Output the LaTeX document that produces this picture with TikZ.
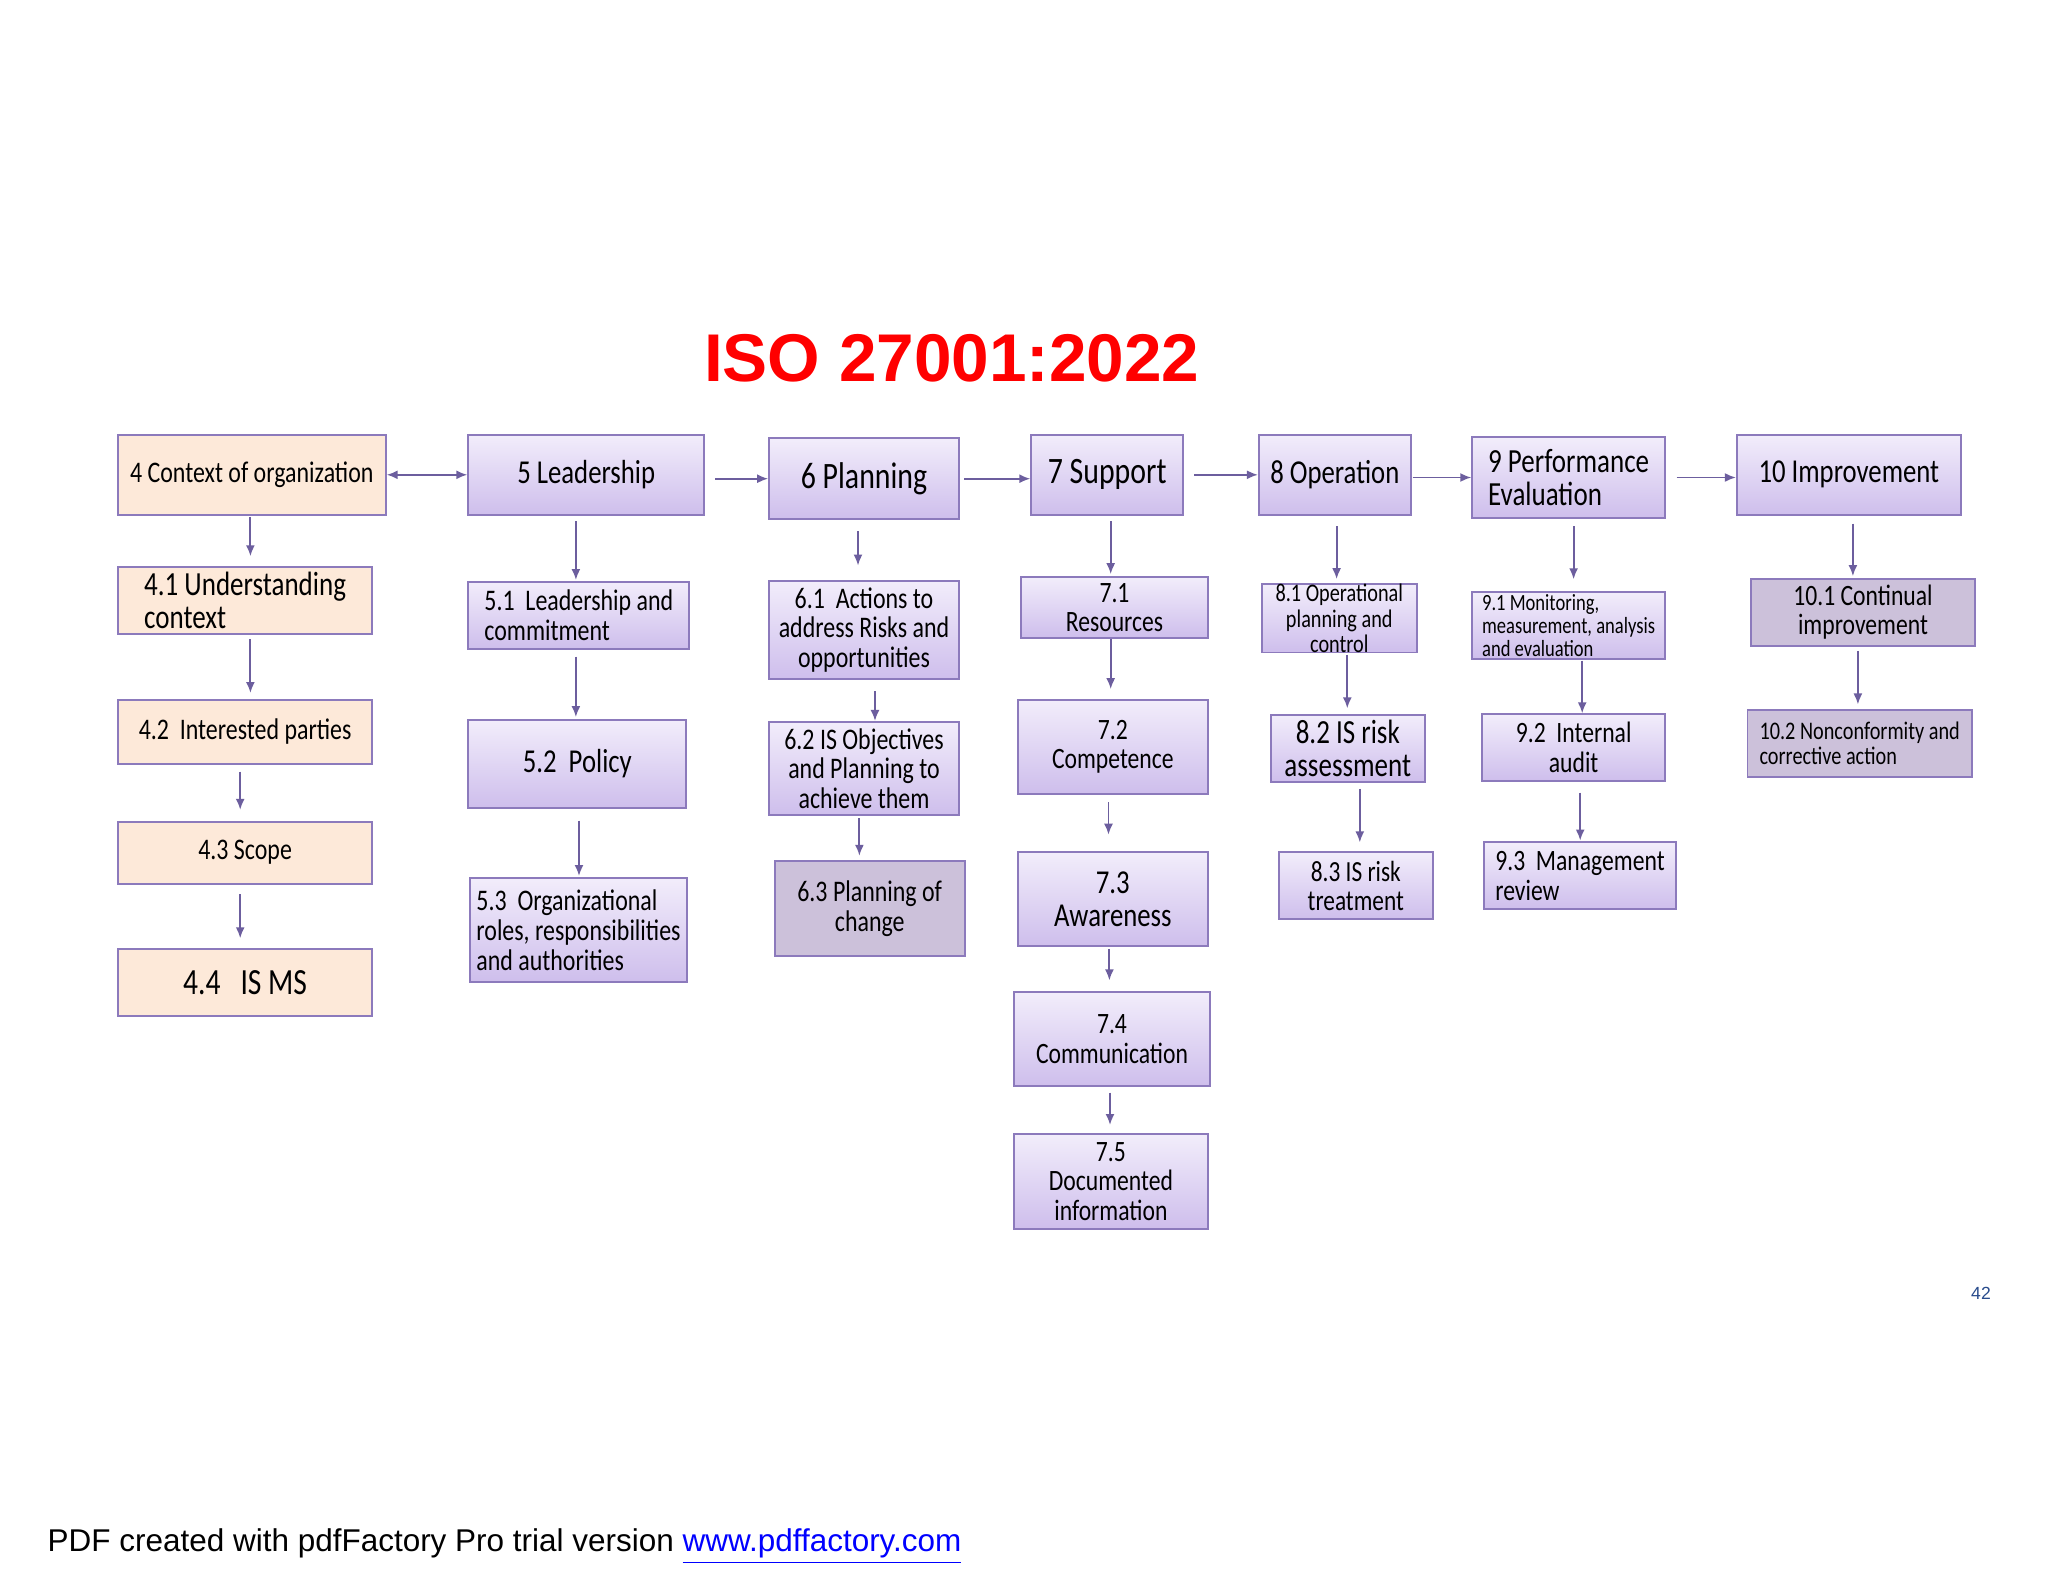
\documentclass[tikz,border=0pt]{standalone}
\usepackage{fontspec}
\setmainfont{Carlito}
\newfontfamily\boxfont[FakeStretch=0.8]{Carlito}
\newfontfamily\arialfont{Liberation Sans}
\usetikzlibrary{arrows.meta}
\definecolor{boxtop}{RGB}{242,237,251}
\definecolor{boxbot}{RGB}{206,190,236}
\definecolor{boxline}{RGB}{140,122,188}
\definecolor{ctxfill}{RGB}{253,233,217}
\definecolor{greyfill}{RGB}{204,193,218}
\definecolor{arrowc}{RGB}{108,94,158}
\definecolor{titlered}{RGB}{255,0,0}
\definecolor{pagenum}{RGB}{40,75,140}
\newcommand\fsz[1]{\fontsize{#1pt}{#1pt}\selectfont}
\tikzset{
  sz/.style 2 args={minimum width=#1*0.01cm, minimum height=#2*0.01cm},
  box/.style={draw=boxline, line width=0.55pt, top color=boxtop, bottom color=boxbot,
    inner sep=0pt, align=center, font=\boxfont\fsz{8.5}},
  ctxbox/.style={box, top color=ctxfill, bottom color=ctxfill},
  greybox/.style={box, top color=greyfill, bottom color=greyfill},
  >={Latex[length=1.1mm,width=0.9mm]},
  arr/.style={draw=arrowc, line width=0.55pt, ->},
}
\begin{document}
\begin{tikzpicture}[x=0.01cm, y=-0.01cm]
\fill[white] (0,0) rectangle (2048,1582);
\useasboundingbox (0,0) rectangle (2048,1582);
\node[anchor=base, text=titlered, font=\arialfont\bfseries\fontsize{19.2pt}{20pt}\selectfont] (title) at (951.8,381) {ISO 27001:2022};
\node[ctxbox, sz={267.8}{80.4}] (c4) at (251.8,474.8) {4 Context of organization};
\node[ctxbox, sz={254.4}{67.1}, align=left, font=\boxfont\fsz{9.6}] (c41) at (245.1,600.3) {4.1 Understanding\\context};
\node[ctxbox, sz={254.4}{64.4}] (c42) at (245.1,731.9) {4.2\ \ Interested parties};
\node[ctxbox, sz={254.4}{62.1}] (c43) at (245.1,852.6) {4.3 Scope};
\node[ctxbox, sz={254.4}{67.1}, font=\boxfont\fsz{10.5}] (c44) at (245.1,982.3) {4.4\ \ \ IS MS};
\node[box, sz={235.7}{80.4}, font=\boxfont\fsz{9.5}] (c5) at (586.2,474.8) {5 Leadership};
\node[box, sz={221}{67}, align=left] (c51) at (578.8,615.2) {5.1\ \ Leadership and\\commitment};
\node[box, sz={218}{87.7}, font=\boxfont\fsz{9.5}] (c52) at (577.3,763.9) {5.2\ \ Policy};
\node[box, sz={217}{104.2}, align=left] (c53) at (578.5,929.9) {5.3\ \ Organizational\\roles, responsibilities\\and authorities};
\node[box, sz={189.7}{80.5}, font=\boxfont\fsz{10.6}] (c6) at (864,478.7) {6 Planning};
\node[box, sz={189.7}{98.9}] (c61) at (864,630) {6.1\ \ Actions to\\address Risks and\\opportunities};
\node[box, sz={189.7}{93.5}] (c62) at (864,768.7) {6.2 IS Objectives\\and Planning to\\achieve them};
\node[greybox, sz={190.1}{95}] (c63) at (869.7,908.9) {6.3 Planning of\\change};
\node[box, sz={151.7}{80.4}, font=\boxfont\fsz{10.6}] (c7) at (1107.2,474.8) {7 Support};
\node[box, sz={186.2}{60.5}, font=\boxfont\fsz{8.4}] (c71) at (1114.5,607.4) {7.1\\Resources};
\node[box, sz={189.7}{93.9}, font=\boxfont\fsz{8.4}] (c72) at (1112.8,746.7) {7.2\\Competence};
\node[box, sz={189.7}{93.8}, font=\boxfont\fsz{9.5}] (c73) at (1112.8,899.1) {7.3\\Awareness};
\node[box, sz={196}{93.7}, font=\boxfont\fsz{8.4}] (c74) at (1112,1039.2) {7.4\\Communication};
\node[box, sz={193.7}{94.4}, font=\boxfont\fsz{8.4}] (c75) at (1110.9,1181.5) {7.5\\Documented\\information};
\node[box, sz={151.8}{80.4}, font=\boxfont\fsz{9.5}] (c8) at (1334.8,474.8) {8 Operation};
\node[box, sz={154.5}{67}, font=\boxfont\fsz{7.2}] (c81) at (1339.3,618.3) {8.1 Operational\\planning and\\control};
\node[box, sz={154.5}{67}, font=\boxfont\fsz{9.6}] (c82) at (1347.8,748.5) {8.2 IS risk\\assessment};
\node[box, sz={154.4}{67}, font=\boxfont\fsz{8.3}] (c83) at (1355.8,885.7) {8.3 IS risk\\treatment};
\node[box, sz={192.6}{80.5}, align=left, font=\boxfont\fsz{9.6}] (c9) at (1568.6,477.5) {9 Performance\\Evaluation};
\node[box, sz={192.6}{66.7}, align=left, font=\boxfont\fsz{6.6}] (c91) at (1568.6,625.4) {9.1 Monitoring,\\measurement, analysis\\and evaluation};
\node[box, sz={182.7}{66.6}, font=\boxfont\fsz{8.4}] (c92) at (1573.6,747.6) {9.2\ \ Internal\\audit};
\node[box, sz={191.3}{67.1}, align=left, font=\boxfont\fsz{8.4}] (c93) at (1580,875.8) {9.3\ \ Management\\review};
\node[box, sz={223.9}{80.4}, font=\boxfont\fsz{9.5}] (c10) at (1848.8,474.8) {10 Improvement};
\node[greybox, sz={224.4}{67.4}, font=\boxfont\fsz{8.4}] (c101) at (1863,612.3) {10.1 Continual\\improvement};
\node[greybox, sz={224.4}{67.1}, align=left, font=\boxfont\fsz{7.2}] (c102) at (1859.7,743.6) {10.2 Nonconformity and\\corrective action};
\draw[arr, <->] (c4.east) -- (c5.west);
\draw[arr, shorten <=1mm] (c5.east |- c6) -- (c6.west);
\draw[arr, shorten <=0.45mm] (c6.east) -- (c6.east -| c7.west);
\draw[arr, shorten <=1mm] (c7.east) -- (c8.west);
\draw[arr, shorten <=0.1mm] (c8.east |- c9) -- (c9.west);
\draw[arr, shorten <=1.07mm] (c9.east) -- (c9.east -| c10.west);
\foreach \a/\b/\x/\s/\e in {c4/c41/250.4/0.1/0.95, c41/c42/250.4/0.46/0.57, c42/c43/240.2/0.65/1.07,
  c43/c44/240.2/0.96/0.95, c5/c51/575.9/0.54/0.07, c51/c52/575.9/0.7/0.2, c52/c53/579/1.2/0.08,
  c6/c61/858/1.14/1.4, c61/c62/875/1.1/0, c62/c63/859.4/0.2/0.46, c7/c71/1110.7/0.54/0.2,
  c71/c72/1110.7/0/0.96, c72/c73/1108.5/0.76/1.65, c73/c74/1109.4/0.2/1.1, c74/c75/1110/0.57/0.83,
  c8/c81/1336.6/1.04/0.4, c81/c82/1347.3/0.12/0.57, c82/c83/1359.8/0.58/0.88, c9/c91/1573.6/0.77/1.18,
  c91/c92/1582.2/0.08/0, c92/c93/1580.2/1.07/0.07, c10/c101/1852.9/0.77/0.15, c101/c102/1857.9/0.4/0.46}
  \draw[arr, shorten <=\s mm, shorten >=\e mm] (\x,0 |- \a.south) -- (\x,0 |- \b.north);
\node[anchor=base, text=pagenum, font=\arialfont\fontsize{5pt}{6pt}\selectfont] (page) at (1981,1299) {42};
\node[anchor=base west, inner sep=0pt, font=\arialfont\fontsize{8.95pt}{10pt}\selectfont] (footer) at (47,1551) {PDF created with pdfFactory Pro trial version \textcolor{blue}{\underline{www.pdffactory.com}}};
\end{tikzpicture}
\end{document}
